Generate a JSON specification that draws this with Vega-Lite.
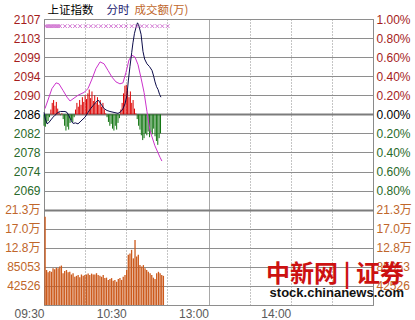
{
  "$schema": "https://vega.github.io/schema/vega-lite/v6.json",
  "width": 329,
  "height": 286,
  "autosize": {"type": "none"},
  "padding": {"left": 44, "top": 19, "right": 42, "bottom": 15},
  "background": "#ffffff",
  "config": {
    "view": {"stroke": "#8a8a8a", "strokeWidth": 1},
    "axis": {"labelFont": "Liberation Sans, Noto Sans CJK SC", "labelFontSize": 12, "labelFlush": false, "labelOverlap": false, "labelBound": false, "ticks": false, "domain": false, "title": null}
  },
  "title": {
    "text": "中新网 | 证券",
    "subtitle": "stock.chinanews.com",
    "orient": "bottom",
    "anchor": "end",
    "frame": "group",
    "font": "Noto Sans CJK SC",
    "fontSize": 24,
    "fontWeight": "bold",
    "color": "#cc1111",
    "subtitleFont": "Liberation Sans",
    "subtitleFontSize": 13,
    "subtitleFontWeight": "bold",
    "subtitleColor": "#111111",
    "subtitlePadding": 0,
    "dx": 31,
    "dy": -56,
    "offset": 0
  },
  "datasets": {
    "vol": [
      {"m": 0.8, "v": 197000}, {"m": 1.9, "v": 78000}, {"m": 3.0, "v": 73000}, {"m": 4.2, "v": 76000}, {"m": 5.4, "v": 74000}, {"m": 6.6, "v": 82000}, {"m": 7.8, "v": 80000}, {"m": 9.0, "v": 83000}, {"m": 10.3, "v": 82000}, {"m": 11.5, "v": 86000}, {"m": 12.7, "v": 88000}, {"m": 13.9, "v": 71000}, {"m": 15.1, "v": 76000}, {"m": 16.4, "v": 78000}, {"m": 17.6, "v": 73000}, {"m": 18.8, "v": 74000}, {"m": 20.0, "v": 68000}, {"m": 21.2, "v": 71000}, {"m": 22.5, "v": 63000}, {"m": 23.7, "v": 65000}, {"m": 24.9, "v": 67000}, {"m": 26.1, "v": 62000}, {"m": 27.3, "v": 68000}, {"m": 28.6, "v": 65000}, {"m": 29.8, "v": 67000}, {"m": 31.0, "v": 68000}, {"m": 32.2, "v": 70000}, {"m": 33.4, "v": 67000}, {"m": 34.7, "v": 70000}, {"m": 35.9, "v": 68000}, {"m": 37.1, "v": 68000}, {"m": 38.3, "v": 71000}, {"m": 39.5, "v": 67000}, {"m": 40.8, "v": 65000}, {"m": 42.0, "v": 63000}, {"m": 43.2, "v": 67000}, {"m": 44.4, "v": 60000}, {"m": 45.6, "v": 61000}, {"m": 46.9, "v": 56000}, {"m": 48.1, "v": 58000}, {"m": 49.3, "v": 60000}, {"m": 50.5, "v": 54000}, {"m": 51.7, "v": 56000}, {"m": 53.0, "v": 52000}, {"m": 54.2, "v": 58000}, {"m": 55.4, "v": 60000}, {"m": 56.6, "v": 56000}, {"m": 57.8, "v": 63000}, {"m": 59.1, "v": 67000}, {"m": 60.3, "v": 78000}, {"m": 61.5, "v": 112000}, {"m": 62.7, "v": 115000}, {"m": 63.9, "v": 123000}, {"m": 65.2, "v": 104000}, {"m": 66.4, "v": 145000}, {"m": 67.6, "v": 108000}, {"m": 68.8, "v": 112000}, {"m": 70.0, "v": 89000}, {"m": 71.3, "v": 86000}, {"m": 72.5, "v": 89000}, {"m": 73.7, "v": 82000}, {"m": 74.9, "v": 78000}, {"m": 76.1, "v": 74000}, {"m": 77.4, "v": 71000}, {"m": 78.6, "v": 67000}, {"m": 79.8, "v": 61000}, {"m": 81.0, "v": 58000}, {"m": 82.2, "v": 71000}, {"m": 83.5, "v": 74000}, {"m": 84.7, "v": 71000}, {"m": 85.9, "v": 67000}, {"m": 87.1, "v": 65000}
    ],
    "ind": [
      {"m": 0, "v": -0.12}, {"m": 1, "v": -0.13}, {"m": 2, "v": -0.09}, {"m": 3, "v": -0.07}, {"m": 4, "v": -0.03}, {"m": 5, "v": 0.05}, {"m": 6, "v": 0.12}, {"m": 7, "v": 0.15}, {"m": 8, "v": 0.09}, {"m": 9, "v": 0.13}, {"m": 10, "v": 0.06}, {"m": 11, "v": 0.02}, {"m": 12, "v": -0.01}, {"m": 13, "v": 0.01}, {"m": 14, "v": -0.05}, {"m": 15, "v": -0.12}, {"m": 16, "v": -0.17}, {"m": 17, "v": -0.13}, {"m": 18, "v": -0.16}, {"m": 19, "v": -0.09}, {"m": 20, "v": -0.06}, {"m": 21, "v": -0.08}, {"m": 22, "v": -0.03}, {"m": 23, "v": 0.05}, {"m": 24, "v": 0.12}, {"m": 25, "v": 0.08}, {"m": 26, "v": 0.15}, {"m": 27, "v": 0.10}, {"m": 28, "v": 0.18}, {"m": 29, "v": 0.13}, {"m": 30, "v": 0.20}, {"m": 31, "v": 0.16}, {"m": 32, "v": 0.22}, {"m": 33, "v": 0.26}, {"m": 34, "v": 0.17}, {"m": 35, "v": 0.24}, {"m": 36, "v": 0.14}, {"m": 37, "v": 0.20}, {"m": 38, "v": 0.12}, {"m": 39, "v": 0.18}, {"m": 40, "v": 0.10}, {"m": 41, "v": 0.15}, {"m": 42, "v": 0.08}, {"m": 43, "v": 0.12}, {"m": 44, "v": 0.05}, {"m": 45, "v": 0.01}, {"m": 46, "v": -0.03}, {"m": 47, "v": -0.08}, {"m": 48, "v": -0.12}, {"m": 49, "v": -0.10}, {"m": 50, "v": -0.15}, {"m": 51, "v": -0.17}, {"m": 52, "v": -0.12}, {"m": 53, "v": -0.16}, {"m": 54, "v": -0.09}, {"m": 55, "v": -0.04}, {"m": 56, "v": 0.05}, {"m": 57, "v": 0.12}, {"m": 58, "v": 0.22}, {"m": 59, "v": 0.30}, {"m": 60, "v": 0.31}, {"m": 61, "v": 0.25}, {"m": 62, "v": 0.18}, {"m": 63, "v": 0.24}, {"m": 64, "v": 0.12}, {"m": 65, "v": 0.15}, {"m": 66, "v": 0.06}, {"m": 67, "v": 0.01}, {"m": 68, "v": -0.05}, {"m": 69, "v": -0.12}, {"m": 70, "v": -0.16}, {"m": 71, "v": -0.22}, {"m": 72, "v": -0.27}, {"m": 73, "v": -0.25}, {"m": 74, "v": -0.20}, {"m": 75, "v": -0.22}, {"m": 76, "v": -0.18}, {"m": 77, "v": -0.24}, {"m": 78, "v": -0.19}, {"m": 79, "v": -0.21}, {"m": 80, "v": -0.15}, {"m": 81, "v": -0.23}, {"m": 82, "v": -0.28}, {"m": 83, "v": -0.32}, {"m": 84, "v": -0.25}, {"m": 85, "v": -0.20}
    ],
    "avg": [
      {"m": 0.7, "p": 0.06}, {"m": 2.9, "p": 0.15}, {"m": 5.8, "p": 0.27}, {"m": 8.8, "p": 0.33}, {"m": 10.9, "p": 0.32}, {"m": 13.9, "p": 0.25}, {"m": 16.8, "p": 0.18}, {"m": 19.0, "p": 0.14}, {"m": 21.9, "p": 0.17}, {"m": 24.8, "p": 0.20}, {"m": 29.2, "p": 0.23}, {"m": 32.1, "p": 0.27}, {"m": 35.0, "p": 0.37}, {"m": 37.9, "p": 0.48}, {"m": 40.9, "p": 0.55}, {"m": 43.8, "p": 0.53}, {"m": 46.7, "p": 0.46}, {"m": 49.6, "p": 0.39}, {"m": 52.5, "p": 0.34}, {"m": 55.4, "p": 0.32}, {"m": 57.6, "p": 0.33}, {"m": 59.8, "p": 0.44}, {"m": 62.0, "p": 0.57}, {"m": 64.2, "p": 0.62}, {"m": 66.4, "p": 0.60}, {"m": 68.6, "p": 0.52}, {"m": 70.8, "p": 0.38}, {"m": 73.0, "p": 0.23}, {"m": 75.1, "p": 0.03}, {"m": 77.3, "p": -0.17}, {"m": 80.9, "p": -0.33}, {"m": 84.6, "p": -0.45}, {"m": 86.0, "p": -0.49}
    ],
    "price": [
      {"m": 0, "p": 0.02}, {"m": 1, "p": -0.05}, {"m": 2.2, "p": -0.10}, {"m": 3.3, "p": -0.09}, {"m": 4.4, "p": -0.07}, {"m": 5.5, "p": -0.05}, {"m": 6.6, "p": -0.03}, {"m": 8, "p": -0.01}, {"m": 10.2, "p": 0.02}, {"m": 12, "p": 0.03}, {"m": 13.9, "p": 0.03}, {"m": 15.3, "p": 0.03}, {"m": 16.8, "p": 0.02}, {"m": 18, "p": -0.01}, {"m": 19, "p": -0.04}, {"m": 20.4, "p": -0.08}, {"m": 21.2, "p": -0.095}, {"m": 23, "p": -0.09}, {"m": 24.8, "p": -0.10}, {"m": 26.3, "p": -0.08}, {"m": 27.7, "p": -0.06}, {"m": 29.9, "p": -0.03}, {"m": 32.1, "p": 0.02}, {"m": 34, "p": 0.06}, {"m": 35.7, "p": 0.09}, {"m": 37.5, "p": 0.12}, {"m": 39.4, "p": 0.15}, {"m": 40.5, "p": 0.13}, {"m": 42, "p": 0.10}, {"m": 43.8, "p": 0.06}, {"m": 46, "p": 0.04}, {"m": 48.1, "p": 0.03}, {"m": 51.1, "p": 0.02}, {"m": 54, "p": 0.01}, {"m": 56.2, "p": 0.03}, {"m": 57.6, "p": 0.06}, {"m": 59.1, "p": 0.11}, {"m": 60.5, "p": 0.20}, {"m": 61.5, "p": 0.35}, {"m": 62.7, "p": 0.50}, {"m": 64, "p": 0.65}, {"m": 64.9, "p": 0.75}, {"m": 66, "p": 0.85}, {"m": 67.1, "p": 0.91}, {"m": 68.2, "p": 0.96}, {"m": 69, "p": 0.94}, {"m": 70.8, "p": 0.84}, {"m": 72.2, "p": 0.66}, {"m": 73.4, "p": 0.58}, {"m": 75.1, "p": 0.53}, {"m": 77, "p": 0.50}, {"m": 78.8, "p": 0.46}, {"m": 80, "p": 0.40}, {"m": 81, "p": 0.34}, {"m": 82.1, "p": 0.29}, {"m": 83.2, "p": 0.26}, {"m": 84.3, "p": 0.21}, {"m": 85.3, "p": 0.18}
    ],
    "marks": [
      {"m": 1.5, "p": 0.925}, {"m": 2.9, "p": 0.925}, {"m": 4.4, "p": 0.925}, {"m": 5.8, "p": 0.925}, {"m": 7.3, "p": 0.925}, {"m": 8.8, "p": 0.925}, {"m": 10.2, "p": 0.925}, {"m": 11.7, "p": 0.925}, {"m": 15.3, "p": 0.925}, {"m": 19.0, "p": 0.925}, {"m": 22.6, "p": 0.925}, {"m": 26.3, "p": 0.925}, {"m": 30.4, "p": 0.925}, {"m": 34.1, "p": 0.925}, {"m": 37.7, "p": 0.925}, {"m": 41.4, "p": 0.925}, {"m": 45.2, "p": 0.925}, {"m": 48.9, "p": 0.925}, {"m": 52.5, "p": 0.925}, {"m": 56.2, "p": 0.925}, {"m": 59.8, "p": 0.925}, {"m": 64.0, "p": 0.925}, {"m": 67.6, "p": 0.925}, {"m": 71.3, "p": 0.925}, {"m": 74.9, "p": 0.925}, {"m": 79.0, "p": 0.925}, {"m": 82.7, "p": 0.925}, {"m": 86.3, "p": 0.925}, {"m": 90.2, "p": 0.925}
    ],
    "head": [
      {"m": 2.2, "t": "上证指数"}, {"m": 45.2, "t": "分时"}, {"m": 65.7, "t": "成交额(万)"}
    ]
  },
  "layer": [
    {
      "data": {"name": "vol"},
      "mark": {"type": "rule", "color": "#cc5a1c", "strokeWidth": 1.3},
      "encoding": {
        "x": {
          "field": "m", "type": "quantitative",
          "scale": {"domain": [0, 240], "nice": false, "zero": false},
          "axis": {
            "orient": "bottom",
            "values": [0, 30, 60, 90, 120, 150, 180, 210, 240],
            "labelExpr": "datum.value == 0 ? '09:30' : datum.value == 60 ? '10:30' : datum.value == 120 ? '13:00' : datum.value == 180 ? '14:00' : ''",
            "labelAlign": "right",
            "labelBaseline": "top",
            "labelPadding": 3,
            "labelColor": "#5a5a5a",
            "grid": true,
            "gridColor": "#8a8a8a",
            "gridDash": {"condition": {"test": "datum.value == 120", "value": [1, 0]}, "value": [1, 2]}
          }
        },
        "y": {
          "field": "v", "type": "quantitative",
          "scale": {"domain": [0, 637896], "nice": false, "zero": false},
          "axis": {
            "orient": "left",
            "values": [0, 42526.4, 85052.8, 127579.2, 170105.6, 212632, 255158.4, 297684.8, 340211.2, 382737.6, 425264, 467790.4, 510316.8, 552843.2, 595369.6, 637896],
            "labelExpr": "['','42526','85053','12.8万','17.0万','21.3万','2069','2074','2078','2082','2086','2090','2094','2099','2103','2107'][round(datum.value / 42526.4)]",
            "labelPadding": 4,
            "labelColor": {"condition": [
              {"test": "round(datum.value / 42526.4) > 10", "value": "#a51c1c"},
              {"test": "round(datum.value / 42526.4) == 10", "value": "#000000"},
              {"test": "round(datum.value / 42526.4) > 5", "value": "#2a6a2a"}
            ], "value": "#c0662a"},
            "grid": true,
            "gridColor": {"condition": {"test": "round(datum.value / 42526.4) == 10 || round(datum.value / 42526.4) == 5", "value": "#7c7c7c"}, "value": "#8e8e8e"},
            "gridWidth": {"condition": {"test": "round(datum.value / 42526.4) == 10 || round(datum.value / 42526.4) == 5", "value": 2}, "value": 1}
          }
        },
        "y2": {"datum": 0}
      }
    },
    {
      "data": {"name": "ind"},
      "mark": {"type": "rule", "strokeWidth": 1},
      "encoding": {
        "x": {"field": "m", "type": "quantitative", "axis": null},
        "y": {"field": "v", "type": "quantitative", "scale": {"domain": [-2, 1], "nice": false, "zero": false}, "axis": null},
        "y2": {"datum": 0},
        "color": {"condition": {"test": "datum.v > 0", "value": "#dd0000"}, "value": "#107410"}
      }
    },
    {
      "data": {"name": "avg"},
      "mark": {"type": "line", "color": "#cc33cc", "strokeWidth": 1},
      "encoding": {
        "x": {"field": "m", "type": "quantitative", "axis": null},
        "y": {"field": "p", "type": "quantitative", "scale": {"domain": [-2, 1], "nice": false, "zero": false}, "axis": null}
      }
    },
    {
      "data": {"name": "price"},
      "mark": {"type": "line", "color": "#0c0c4a", "strokeWidth": 1},
      "encoding": {
        "x": {"field": "m", "type": "quantitative", "axis": null},
        "y": {
          "field": "p", "type": "quantitative",
          "scale": {"domain": [-2, 1], "nice": false, "zero": false},
          "axis": {
            "orient": "right",
            "values": [-2, -1.8, -1.6, -1.4, -1.2, -1, -0.8, -0.6, -0.4, -0.2, 0, 0.2, 0.4, 0.6, 0.8, 1],
            "labelExpr": "['','42526','85053','12.8万','17.0万','21.3万','0.80%','0.60%','0.40%','0.20%','0.00%','0.20%','0.40%','0.60%','0.80%','1.00%'][round((datum.value + 2) * 5)]",
            "labelPadding": 3,
            "labelColor": {"condition": [
              {"test": "round((datum.value + 2) * 5) > 10", "value": "#a51c1c"},
              {"test": "round((datum.value + 2) * 5) == 10", "value": "#000000"},
              {"test": "round((datum.value + 2) * 5) > 5", "value": "#2a6a2a"}
            ], "value": "#c0662a"},
            "grid": false
          }
        }
      }
    },
    {
      "data": {"name": "marks"},
      "mark": {"type": "point", "shape": "M-1,-1L1,1M-1,1L1,-1", "filled": false, "size": 14, "strokeWidth": 1, "color": "#c040c0"},
      "encoding": {
        "x": {"field": "m", "type": "quantitative", "axis": null},
        "y": {"field": "p", "type": "quantitative", "scale": {"domain": [-2, 1], "nice": false, "zero": false}, "axis": null}
      }
    },
    {
      "data": {"name": "head"},
      "mark": {"type": "rule", "opacity": 0},
      "encoding": {
        "x": {
          "field": "m", "type": "quantitative",
          "axis": {
            "orient": "top",
            "values": [2.2, 45.2, 65.7],
            "labelExpr": "datum.value < 10 ? '上证指数' : datum.value < 50 ? '分时' : '成交额(万)'",
            "labelAlign": "left",
            "labelBaseline": "alphabetic",
            "labelPadding": 6,
            "labelFont": "Noto Sans CJK SC",
            "labelFontSize": 11.5,
            "labelColor": {"condition": [
              {"test": "datum.value < 10", "value": "#000000"},
              {"test": "datum.value < 50", "value": "#1a1a70"}
            ], "value": "#c0662a"},
            "grid": false
          }
        }
      }
    }
  ],
  "resolve": {"scale": {"y": "independent"}, "axis": {"x": "independent", "y": "independent"}}
}
